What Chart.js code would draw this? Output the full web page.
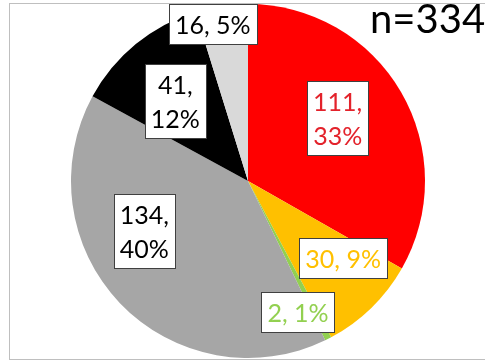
<!DOCTYPE html>
<html>
<head>
<meta charset="utf-8">
<script src="https://cdn.jsdelivr.net/npm/chart.js@4.4.0/dist/chart.umd.min.js"></script>
<style>
    html, body { margin: 0; padding: 0; background: #fff; }
    #wrap { width: 485px; height: 362px; position: relative; }
</style>
</head>
<body>
<div id="wrap"><canvas id="myChart"></canvas></div>
<script>
// data, clockwise from 12 o'clock
var categories = ['A', 'B', 'C', 'D', 'E', 'F'];
var counts = [111, 30, 2, 134, 41, 16];
var totalLabel = 'n=334';

var sliceColors = ['#FF0000', '#FFC000', '#92D050', '#A6A6A6', '#000000', '#D9D9D9'];
var labelColors = ['#E3222B', '#FFC000', '#92D050', '#000000', '#000000', '#000000'];
// label placement: angle shift from slice middle (deg), fraction of radius, wrap to 2 lines
var labelPlace = [
    { shift: -5, frac: 0.62, wrap: true },
    { shift: -7, frac: 0.69, wrap: false },
    { shift: 6, frac: 0.79, wrap: false },
    { shift: 18, frac: 0.65, wrap: true },
    { shift: -3, frac: 0.61, wrap: true },
    { shift: -4, frac: 0.91, wrap: false }
];

var FONT = 'Lato, "Open Sans", sans-serif';

var boxLabels = {
    id: 'boxLabels',
    beforeDraw: function (chart) {
        var ctx = chart.ctx;
        ctx.save();
        ctx.strokeStyle = '#BFBFBF';
        ctx.lineWidth = 1;
        ctx.strokeRect(9.5, 3.5, 490, 356);
        ctx.restore();
    },
    afterDatasetsDraw: function (chart) {
        var ctx = chart.ctx;
        var meta = chart.getDatasetMeta(0);
        var data = chart.data.datasets[0].data;
        var total = data.reduce(function (sum, v) { return sum + v; }, 0);

        ctx.save();
        ctx.font = '25px ' + FONT;
        ctx.textAlign = 'center';
        ctx.textBaseline = 'middle';

        meta.data.forEach(function (arc, i) {
            var p = labelPlace[i];
            var pct = Math.round(data[i] / total * 100);
            var lines = p.wrap ? [data[i] + ',', pct + '%'] : [data[i] + ', ' + pct + '%'];
            var mid = (arc.startAngle + arc.endAngle) / 2 + p.shift * Math.PI / 180;
            var cx = arc.x + Math.cos(mid) * arc.outerRadius * p.frac;
            var cy = arc.y + Math.sin(mid) * arc.outerRadius * p.frac;

            var lineH = 34;
            var w = 0;
            lines.forEach(function (t) { w = Math.max(w, ctx.measureText(t).width); });
            var bw = Math.round(w + 12);
            var bh = lines.length * lineH + 6;
            var bx = Math.round(cx - bw / 2) + 0.5;
            var by = Math.round(cy - bh / 2) + 0.5;

            ctx.fillStyle = '#FFFFFF';
            ctx.fillRect(bx, by, bw, bh);
            ctx.strokeStyle = '#404040';
            ctx.lineWidth = 1;
            ctx.strokeRect(bx, by, bw, bh);

            ctx.fillStyle = labelColors[i];
            lines.forEach(function (t, k) {
                ctx.fillText(t, cx, by + 3 + lineH * k + lineH / 2 + 1);
            });
        });

        ctx.font = '40px ' + FONT;
        ctx.textAlign = 'left';
        ctx.textBaseline = 'alphabetic';
        ctx.fillStyle = '#000000';
        ctx.fillText(totalLabel, 370, 33);
        ctx.restore();
    }
};

var ctx = document.getElementById('myChart').getContext('2d');
var myChart = new Chart(ctx, {
    type: 'pie',
    data: {
        labels: categories,
        datasets: [{
            data: counts,
            backgroundColor: sliceColors,
            borderWidth: 0
        }]
    },
    options: {
        responsive: true,
        maintainAspectRatio: false,
        animation: false,
        layout: {
            padding: { left: 11, right: 0, top: 4, bottom: 4 }
        },
        plugins: {
            legend: { display: false },
            tooltip: { enabled: false }
        }
    },
    plugins: [boxLabels]
});
</script>
</body>
</html>
